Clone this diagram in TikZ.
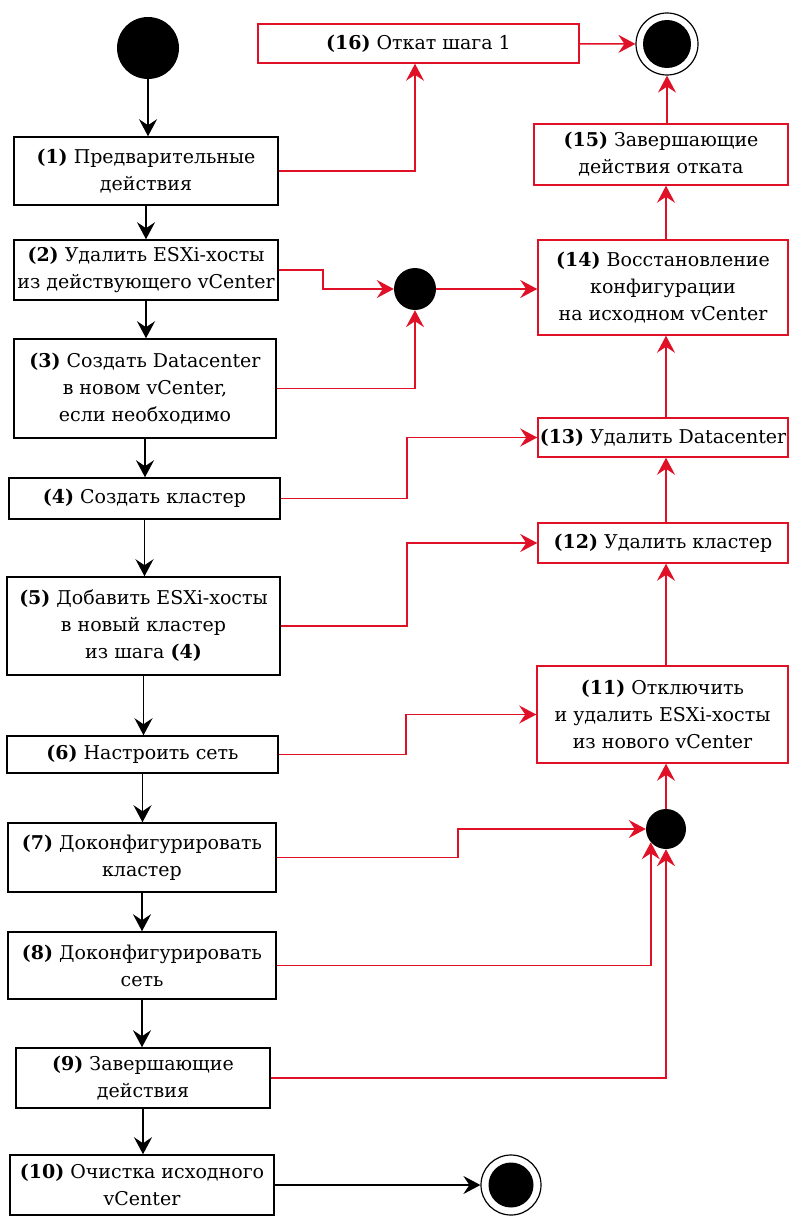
\documentclass[tikz,border=0pt]{standalone}
\usepackage{fontspec}
\setmainfont{DejaVu Serif}
\usetikzlibrary{arrows.meta}
\definecolor{rollback}{RGB}{224,16,38}

\begin{document}
\begin{tikzpicture}[x=1pt, y=-1pt,
	every node/.style = {font=\fontsize{19}{27}\selectfont},
	box/.style = {shape=rectangle, draw, line width=1.5pt,
		align=center, inner sep=0pt},
	rbox/.style = {box, draw=rollback},
	dot/.style = {circle, fill=black, inner sep=0pt},
	ring/.style = {circle, draw, line width=1.2pt, fill=white, inner sep=0pt},
	flow/.style = {draw, line width=1.6pt,
		-{Stealth[length=17pt,width=18pt,inset=6pt]}},
	rflow/.style = {flow, draw=rollback}]
	\useasboundingbox (0,0) rectangle (790,1217);

	% main steps
	\node[dot, minimum size=62pt] (start) at (148,48) {};
	\node[box, minimum width=264pt, minimum height=68pt] (step1) at (146,171)
		{\textbf{(1)} Предварительные\\действия};
	\node[box, minimum width=264pt, minimum height=60pt] (step2) at (146,270)
		{\textbf{(2)} Удалить ESXi-хосты\\из действующего vCenter};
	\node[box, minimum width=262pt, minimum height=99pt] (step3) at (145,388.5)
		{\textbf{(3)} Создать Datacenter\\в новом vCenter,\\если необходимо};
	\node[box, minimum width=271pt, minimum height=41pt] (step4) at (144.5,498.5)
		{\textbf{(4)} Создать кластер};
	\node[box, minimum width=273pt, minimum height=98pt] (step5) at (143.5,626)
		{\textbf{(5)} Добавить ESXi-хосты\\в новый кластер\\из шага \textbf{(4)}};
	\node[box, minimum width=271pt, minimum height=37pt] (step6) at (142.5,754.5)
		{\textbf{(6)} Настроить сеть};
	\node[box, minimum width=268pt, minimum height=69pt] (step7) at (142,857.5)
		{\textbf{(7)} Доконфигурировать\\кластер};
	\node[box, minimum width=268pt, minimum height=67pt] (step8) at (142,965.5)
		{\textbf{(8)} Доконфигурировать\\сеть};
	\node[box, minimum width=254pt, minimum height=60pt] (step9) at (143,1078)
		{\textbf{(9)} Завершающие\\действия};
	\node[box, minimum width=264pt, minimum height=60pt] (step10) at (142,1185)
		{\textbf{(10)} Очистка исходного\\vCenter};
	\node[ring, minimum size=60pt] (stop2) at (511,1185) {};
	\node[dot, minimum size=45pt] at (stop2) {};

	% rollback
	\node[dot, minimum size=42pt] (join1) at (415,289) {};
	\node[dot, minimum size=40pt] (join2) at (666,829) {};
	\node[rbox, minimum width=251pt, minimum height=97pt] (step11) at (662.5,714.5)
		{\textbf{(11)} Отключить\\и удалить ESXi-хосты\\из нового vCenter};
	\node[rbox, minimum width=250pt, minimum height=40pt] (step12) at (663,543)
		{\textbf{(12)} Удалить кластер};
	\node[rbox, minimum width=250pt, minimum height=39pt] (step13) at (663,437.5)
		{\textbf{(13)} Удалить Datacenter};
	\node[rbox, minimum width=250pt, minimum height=95pt] (step14) at (663,287.5)
		{\textbf{(14)} Восстановление\\конфигурации\\на исходном vCenter};
	\node[rbox, minimum width=254pt, minimum height=61pt] (step15) at (661,154.5)
		{\textbf{(15)} Завершающие\\действия отката};
	\node[rbox, minimum width=321pt, minimum height=39pt] (step16) at (418.5,43.5)
		{\textbf{(16)} Откат шага 1};
	\node[ring, minimum size=62pt] (stop1) at (667,44) {};
	\node[dot, minimum size=48pt] at (stop1) {};

	\draw[flow] (start) -- (start |- step1.north);
	\draw[flow] (step1.south) -- (step1.south |- step2.north);
	\draw[flow] (step2.south) -- (step2.south |- step3.north);
	\draw[flow] (step3.south) -- (step3.south |- step4.north);
	\draw[flow] (step4.south) -- (step4.south |- step5.north);
	\draw[flow] (step5.south) -- (step5.south |- step6.north);
	\draw[flow] (step6.south) -- (step6.south |- step7.north);
	\draw[flow] (step7.south) -- (step7.south |- step8.north);
	\draw[flow] (step8.south) -- (step8.south |- step9.north);
	\draw[flow] (step9.south) -- (step9.south |- step10.north);
	\draw[flow] (step10) -- (stop2);

	\draw[rflow] (step1.east) -| (join1 |- step16.south);
	\draw[rflow] (step2.east) -- ++(44,0) |- (join1);
	\draw[rflow] (step3.east) -| (join1);
	\draw[rflow] (join1) -- (join1 -| step14.west);
	\draw[rflow] (step4.east) -- ++(126,0) |- (step13);
	\draw[rflow] (step5.east) -- ++(126,0) |- (step12);
	\draw[rflow] (step6.east) -- ++(127,0) |- (step11);
	\draw[rflow] (step7.east) -- ++(181,0) |- (join2);
	\draw[rflow] (step8.east) -| (join2.-139);
	\draw[rflow] (step9.east) -| (join2);
	\draw[rflow] (join2) -- (join2 |- step11.south);
	\draw[rflow] (step11.north -| join2) -- (join2 |- step12.south);
	\draw[rflow] (step12.north -| join2) -- (join2 |- step13.south);
	\draw[rflow] (step13.north -| join2) -- (join2 |- step14.south);
	\draw[rflow] (step14.north -| join2) -- (join2 |- step15.south);
	\draw[rflow] (step15.north -| stop1) -- (stop1);
	\draw[rflow] (step16) -- (stop1);
\end{tikzpicture}
\end{document}
